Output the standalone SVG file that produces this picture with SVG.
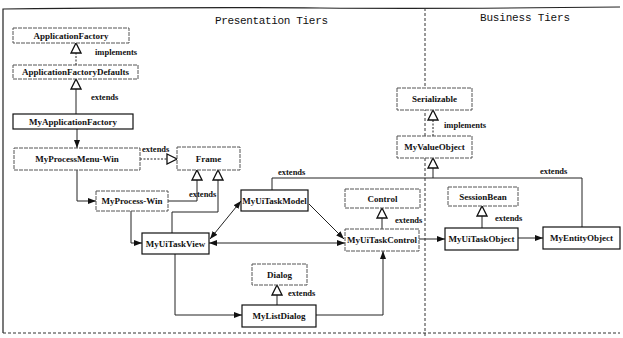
<svg xmlns="http://www.w3.org/2000/svg" width="623" height="338" viewBox="0 0 623 338">
  <style>
    .bg { fill: #ffffff; }
    .frame { fill: none; stroke: #222; stroke-width: 1.2; }
    .tier { fill: none; stroke: #333; stroke-width: 1; stroke-dasharray: 3 2; }
    .title { font-family: "Liberation Mono", "DejaVu Sans Mono", monospace; font-size: 11px; fill: #111; }
    .box { fill: #fff; stroke: #111; stroke-width: 1.2; }
    .lib { fill: #fff; stroke: #555; stroke-width: 1; stroke-dasharray: 4 1; }
    .name { font-family: "Liberation Serif", "DejaVu Serif", serif; font-weight: bold; font-size: 9px; fill: #111; text-anchor: middle; dominant-baseline: central; }
    .lbl { font-family: "Liberation Serif", "DejaVu Serif", serif; font-weight: bold; font-size: 8.5px; fill: #111; }
    .ln { fill: none; stroke: #222; stroke-width: 1; }
    .dash { fill: none; stroke: #222; stroke-width: 1; stroke-dasharray: 2 1.5; }
  </style>
  <defs>
    <marker id="arrow" markerUnits="userSpaceOnUse" markerWidth="8" markerHeight="6" refX="8" refY="3" orient="auto-start-reverse">
      <path d="M0,0 L8,3 L0,6 z" fill="#111"/>
    </marker>
    <marker id="gen" markerUnits="userSpaceOnUse" markerWidth="12" markerHeight="12" refX="11" refY="6" orient="auto">
      <path d="M1,1 L11,6 L1,11 z" fill="#fff" stroke="#111" stroke-width="1.3"/>
    </marker>
  </defs>

  <rect class="bg" x="0" y="0" width="623" height="338"/>

  <!-- outer frame and tier divider -->
  <g id="tiers">
    <path class="frame" d="M3,333 V9 Q200,7 320,8 T620,7"/>
    <path class="tier" d="M3,333 H620" stroke="#999"/>
    <path class="tier" d="M425,8 V338"/>
    <text class="title" x="215" y="24" textLength="113">Presentation Tiers</text>
    <text class="title" x="480" y="21" textLength="90">Business Tiers</text>
  </g>

  <!-- connectors -->
  <g id="connectors">
    <!-- generalisation / realisation -->
    <path class="dash" d="M76,65 V43" marker-end="url(#gen)"/>
    <path class="ln" d="M76,114 V79" marker-end="url(#gen)"/>
    <path class="dash" d="M140,159 H177" marker-end="url(#gen)"/>
    <path class="ln" d="M168,201 H197 V170" marker-end="url(#gen)"/>
    <path class="ln" d="M172,233 V212 H218 V170" marker-end="url(#gen)"/>
    <path class="dash" d="M433,136 V110" marker-end="url(#gen)"/>
    <path class="ln" d="M272,190 V178 H582 V227"/>
    <path class="ln" d="M433,178 V158" marker-end="url(#gen)"/>
    <path class="ln" d="M382,229 V208" marker-end="url(#gen)"/>
    <path class="ln" d="M482,228 V206" marker-end="url(#gen)"/>
    <path class="ln" d="M277,305 V285" marker-end="url(#gen)"/>

    <!-- associations -->
    <path class="ln" d="M77,129 V148" marker-end="url(#arrow)"/>
    <path class="ln" d="M77,170 V201 H96" marker-end="url(#arrow)"/>
    <path class="ln" d="M131,211 V243 H142" marker-end="url(#arrow)"/>
    <path class="ln" d="M210,239 L241,201" marker-start="url(#arrow)" marker-end="url(#arrow)"/>
    <path class="ln" d="M309,204 L344,239" marker-end="url(#arrow)"/>
    <path class="ln" d="M209,243 H345" marker-start="url(#arrow)" marker-end="url(#arrow)"/>
    <path class="ln" d="M175,254 V315 H242" marker-end="url(#arrow)"/>
    <path class="ln" d="M316,315 H383 V251" marker-end="url(#arrow)"/>
    <path class="ln" d="M419,239 H445" marker-end="url(#arrow)"/>
    <path class="ln" d="M518,238 H543" marker-end="url(#arrow)"/>

    <!-- relation labels -->
    <text class="lbl" x="95" y="55">implements</text>
    <text class="lbl" x="91" y="100">extends</text>
    <text class="lbl" x="142" y="152">extends</text>
    <text class="lbl" x="189" y="197">extends</text>
    <text class="lbl" x="278" y="175">extends</text>
    <text class="lbl" x="540" y="174">extends</text>
    <text class="lbl" x="444" y="128">implements</text>
    <text class="lbl" x="395" y="223">extends</text>
    <text class="lbl" x="495" y="221">extends</text>
    <text class="lbl" x="288" y="296">extends</text>
  </g>

  <!-- class nodes -->
  <g id="ApplicationFactory"><rect class="lib" x="13" y="28" width="116" height="15"/><text class="name" x="71" y="35.5">ApplicationFactory</text></g>
  <g id="ApplicationFactoryDefaults"><rect class="lib" x="13" y="65" width="125" height="14"/><text class="name" x="75.5" y="72">ApplicationFactoryDefaults</text></g>
  <g id="MyApplicationFactory"><rect class="box" x="13" y="114" width="120" height="15"/><text class="name" x="73" y="121.5">MyApplicationFactory</text></g>
  <g id="MyProcessMenu-Win"><rect class="lib" x="14" y="148" width="126" height="22"/><text class="name" x="77" y="159">MyProcessMenu-Win</text></g>
  <g id="Frame"><rect class="lib" x="177" y="147" width="63" height="23"/><text class="name" x="208.5" y="158.5">Frame</text></g>
  <g id="MyProcess-Win"><rect class="lib" x="96" y="191" width="72" height="20"/><text class="name" x="132" y="201">MyProcess-Win</text></g>
  <g id="MyUiTaskModel"><rect class="box" x="241" y="190" width="67" height="21"/><text class="name" x="274.5" y="200.5">MyUiTaskModel</text></g>
  <g id="Control"><rect class="lib" x="345" y="189" width="75" height="19"/><text class="name" x="382.5" y="198.5">Control</text></g>
  <g id="MyUiTaskView"><rect class="box" x="142" y="233" width="67" height="21"/><text class="name" x="175.5" y="243.5">MyUiTaskView</text></g>
  <g id="MyUiTaskControl"><rect class="lib" x="345" y="229" width="74" height="22"/><text class="name" x="382" y="240">MyUiTaskControl</text></g>
  <g id="Dialog"><rect class="lib" x="252" y="264" width="55" height="21"/><text class="name" x="279.5" y="274.5">Dialog</text></g>
  <g id="MyListDialog"><rect class="box" x="242" y="305" width="74" height="22"/><text class="name" x="279" y="316">MyListDialog</text></g>
  <g id="Serializable"><rect class="lib" x="397" y="88" width="75" height="22"/><text class="name" x="434.5" y="99">Serializable</text></g>
  <g id="MyValueObject"><rect class="lib" x="397" y="136" width="75" height="22"/><text class="name" x="434.5" y="147">MyValueObject</text></g>
  <g id="SessionBean"><rect class="lib" x="448" y="187" width="70" height="19"/><text class="name" x="483" y="196.5">SessionBean</text></g>
  <g id="MyUiTaskObject"><rect class="box" x="445" y="228" width="73" height="22"/><text class="name" x="481.5" y="239">MyUiTaskObject</text></g>
  <g id="MyEntityObject"><rect class="box" x="543" y="227" width="77" height="22"/><text class="name" x="581.5" y="238">MyEntityObject</text></g>
</svg>
